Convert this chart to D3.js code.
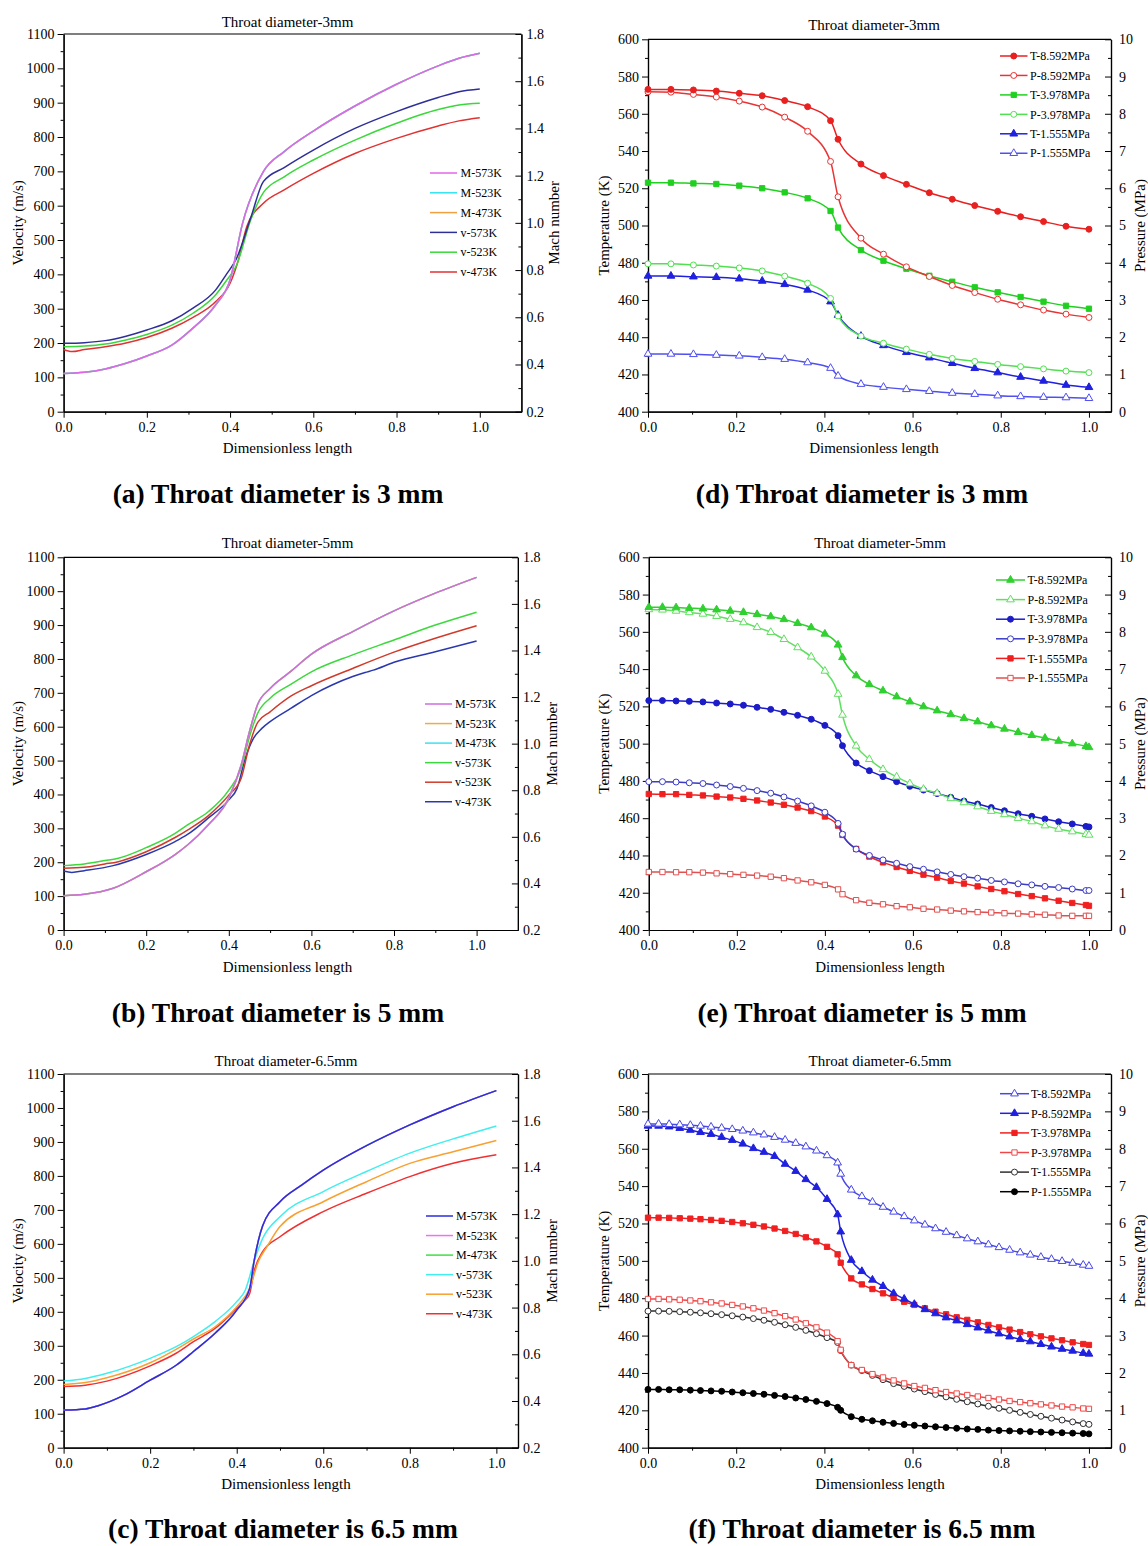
<!DOCTYPE html>
<html><head><meta charset="utf-8">
<script src="https://cdn.jsdelivr.net/npm/d3@7"></script>
<style>body{margin:0;background:#fff}</style>
</head><body>
<script>
// ================= DATA =================
const xTickVals = [0, 0.2, 0.4, 0.6, 0.8, 1.0];
const xMinorVals = [0.1, 0.3, 0.5, 0.7, 0.9];

// ---- Panel (a): throat 3 mm, velocity / Mach ----
const xA_M = [0, 0.05, 0.1, 0.15, 0.2, 0.26, 0.31, 0.365, 0.40, 0.43, 0.48, 0.53, 0.6, 0.7, 0.8, 0.9, 0.95, 1.0];
const machA = [0.362, 0.367, 0.381, 0.405, 0.436, 0.482, 0.553, 0.652, 0.758, 0.998, 1.217, 1.302, 1.389, 1.495, 1.587, 1.665, 1.697, 1.718];
const xA_v573 = [0, 0.05, 0.1, 0.15, 0.2, 0.26, 0.31, 0.365, 0.39, 0.415, 0.45, 0.48, 0.53, 0.6, 0.7, 0.8, 0.9, 0.95, 1.0];
const vA_573 = [199, 201, 207, 220, 238, 265, 301, 354, 398, 445, 566, 670, 711, 762, 825, 874, 915, 932, 940];
const xA_v523 = [0, 0.05, 0.1, 0.15, 0.2, 0.26, 0.31, 0.365, 0.39, 0.415, 0.45, 0.48, 0.53, 0.6, 0.7, 0.8, 0.9, 0.95, 1.0];
const vA_523 = [189, 191, 197, 209, 225, 252, 286, 340, 380, 425, 560, 638, 684, 733, 791, 840, 880, 893, 898];
const xA_v473 = [0, 0.02, 0.05, 0.1, 0.15, 0.2, 0.26, 0.31, 0.365, 0.4, 0.42, 0.44, 0.48, 0.53, 0.6, 0.7, 0.8, 0.9, 0.95, 1.0];
const vA_473 = [181, 175, 181, 189, 200, 216, 243, 274, 320, 374, 442, 539, 607, 646, 694, 752, 796, 832, 847, 856];

// ---- Panel (b): throat 5 mm ----
const xB_M = [0, 0.05, 0.12, 0.2, 0.27, 0.3, 0.35, 0.4, 0.43, 0.45, 0.47, 0.5, 0.55, 0.6, 0.7, 0.8, 0.9, 1.0];
const machB = [0.347, 0.353, 0.379, 0.450, 0.524, 0.565, 0.651, 0.766, 0.908, 1.051, 1.169, 1.237, 1.310, 1.384, 1.481, 1.570, 1.646, 1.714];
const xB_v573 = [0, 0.05, 0.1, 0.13, 0.2, 0.27, 0.3, 0.35, 0.4, 0.43, 0.45, 0.47, 0.5, 0.55, 0.6, 0.7, 0.8, 0.9, 1.0];
const vB_573 = [190, 195, 205, 211, 243, 285, 310, 349, 413, 477, 570, 640, 684, 725, 762, 812, 856, 900, 938];
const xB_v523 = [0, 0.05, 0.1, 0.13, 0.2, 0.27, 0.3, 0.35, 0.4, 0.43, 0.45, 0.47, 0.5, 0.55, 0.6, 0.7, 0.8, 0.9, 1.0];
const vB_523 = [182, 185, 195, 201, 231, 273, 295, 337, 398, 448, 546, 613, 644, 690, 721, 772, 820, 861, 898];
const xB_v473 = [0, 0.02, 0.05, 0.12, 0.2, 0.27, 0.3, 0.35, 0.4, 0.42, 0.44, 0.46, 0.48, 0.5, 0.55, 0.6, 0.65, 0.7, 0.73, 0.75, 0.8, 0.9, 1.0];
const vB_473 = [174, 170, 175, 190, 223, 261, 282, 330, 384, 418, 507, 566, 595, 615, 654, 692, 723, 748, 760, 767, 790, 821, 853];

// ---- Panel (c): throat 6.5 mm ----
const xC_M = [0, 0.05, 0.08, 0.14, 0.2, 0.26, 0.3, 0.35, 0.4, 0.43, 0.44, 0.46, 0.5, 0.55, 0.6, 0.7, 0.8, 0.9, 1.0];
const machC = [0.361, 0.366, 0.380, 0.425, 0.489, 0.553, 0.612, 0.690, 0.789, 0.882, 0.997, 1.150, 1.253, 1.324, 1.388, 1.493, 1.582, 1.660, 1.729];
const xC_v573 = [0, 0.05, 0.1, 0.2, 0.27, 0.3, 0.35, 0.4, 0.42, 0.44, 0.46, 0.5, 0.6, 0.7, 0.8, 0.9, 1.0];
const vC_573 = [196, 204, 219, 263, 304, 327, 371, 430, 464, 548, 616, 680, 754, 813, 867, 909, 947];
const xC_v523 = [0, 0.05, 0.1, 0.2, 0.27, 0.3, 0.35, 0.4, 0.43, 0.45, 0.47, 0.5, 0.6, 0.7, 0.8, 0.9, 1.0];
const vC_523 = [186, 192, 206, 250, 297, 320, 356, 415, 469, 548, 592, 651, 724, 783, 837, 871, 904];
const xC_v473 = [0, 0.05, 0.1, 0.2, 0.26, 0.3, 0.35, 0.4, 0.42, 0.43, 0.44, 0.46, 0.5, 0.6, 0.7, 0.8, 0.9, 1.0];
const vC_473 = [180, 184, 196, 241, 278, 312, 351, 410, 435, 454, 518, 577, 621, 695, 749, 798, 837, 862];

// ---- Panel (d): throat 3 mm, temperature / pressure ----
const xD = [0, 0.052, 0.103, 0.155, 0.207, 0.259, 0.31, 0.362, 0.414, 0.431, 0.483, 0.534, 0.586, 0.638, 0.69, 0.741, 0.793, 0.845, 0.897, 0.948, 1.0];
const tD_86 = [573.1, 573.1, 572.8, 572.2, 571.0, 569.7, 567.1, 563.8, 556.3, 546.3, 533.0, 526.8, 522.1, 517.6, 514.1, 510.7, 507.6, 504.7, 502.1, 499.6, 498.0];
const pD_86 = [8.59, 8.58, 8.52, 8.45, 8.34, 8.18, 7.91, 7.53, 6.72, 5.77, 4.66, 4.23, 3.89, 3.63, 3.39, 3.20, 3.02, 2.87, 2.73, 2.62, 2.53];
const tD_40 = [523.0, 523.0, 522.6, 522.3, 521.4, 520.0, 517.8, 514.6, 507.8, 498.9, 486.8, 481.1, 476.8, 473.0, 469.8, 466.8, 464.1, 461.6, 459.1, 456.9, 455.3];
const pD_40 = [3.97, 3.97, 3.94, 3.91, 3.86, 3.78, 3.64, 3.45, 3.04, 2.57, 2.03, 1.84, 1.68, 1.54, 1.43, 1.35, 1.27, 1.21, 1.15, 1.09, 1.05];
const tD_16 = [472.9, 472.9, 472.5, 472.2, 471.4, 470.2, 468.4, 465.4, 459.1, 451.9, 440.6, 435.6, 431.9, 429.0, 426.0, 423.3, 421.0, 418.6, 416.5, 414.3, 413.1];
const pD_16 = [1.55, 1.55, 1.54, 1.52, 1.50, 1.46, 1.41, 1.32, 1.17, 0.96, 0.74, 0.66, 0.60, 0.55, 0.50, 0.47, 0.43, 0.41, 0.39, 0.38, 0.36];

// ---- Panel (e): throat 5 mm ----
const xE = [0, 0.031, 0.062, 0.092, 0.123, 0.154, 0.185, 0.215, 0.246, 0.277, 0.307, 0.338, 0.369, 0.4, 0.43, 0.44, 0.471, 0.501, 0.532, 0.563, 0.593, 0.624, 0.655, 0.686, 0.716, 0.747, 0.778, 0.808, 0.839, 0.87, 0.9, 0.931, 0.962, 0.993, 1.0];
const tE_86 = [573.2, 573.2, 573.0, 572.7, 572.4, 571.9, 571.2, 570.5, 569.4, 568.2, 566.7, 564.6, 562.3, 558.9, 553.0, 546.3, 536.5, 531.8, 528.4, 525.2, 522.5, 519.9, 517.7, 515.7, 513.6, 511.8, 509.7, 507.9, 506.1, 504.5, 503.0, 501.4, 500.0, 498.6, 498.0];
const pE_86 = [8.60, 8.59, 8.56, 8.52, 8.48, 8.42, 8.34, 8.25, 8.12, 7.99, 7.80, 7.58, 7.33, 6.95, 6.33, 5.77, 4.94, 4.58, 4.31, 4.11, 3.93, 3.78, 3.67, 3.53, 3.42, 3.31, 3.19, 3.10, 3.00, 2.91, 2.80, 2.71, 2.64, 2.57, 2.55];
const tE_40 = [523.1, 523.1, 522.9, 522.7, 522.4, 521.8, 521.3, 520.6, 519.5, 518.4, 516.8, 515.2, 513.1, 509.8, 504.3, 498.9, 489.6, 485.5, 482.3, 479.6, 477.1, 475.1, 473.2, 471.2, 469.2, 467.6, 465.7, 464.0, 462.4, 461.0, 459.6, 458.1, 456.9, 455.6, 455.3];
const pE_40 = [3.98, 3.98, 3.97, 3.95, 3.93, 3.89, 3.85, 3.80, 3.74, 3.67, 3.57, 3.46, 3.33, 3.16, 2.86, 2.57, 2.17, 2.00, 1.88, 1.79, 1.70, 1.63, 1.56, 1.49, 1.43, 1.39, 1.33, 1.29, 1.24, 1.21, 1.17, 1.14, 1.10, 1.06, 1.06];
const tE_16 = [473.0, 472.9, 472.9, 472.5, 472.2, 471.6, 471.1, 470.4, 469.5, 468.4, 467.2, 465.7, 463.8, 460.9, 456.0, 451.0, 443.5, 439.4, 436.3, 433.8, 431.7, 429.7, 428.1, 426.3, 424.9, 423.4, 422.0, 420.8, 419.3, 418.2, 417.0, 415.7, 414.5, 413.4, 413.0];
const pE_16 = [1.556, 1.556, 1.55, 1.55, 1.54, 1.52, 1.50, 1.48, 1.46, 1.43, 1.39, 1.33, 1.28, 1.21, 1.09, 0.96, 0.80, 0.73, 0.69, 0.64, 0.61, 0.57, 0.55, 0.52, 0.50, 0.48, 0.47, 0.45, 0.44, 0.42, 0.41, 0.39, 0.38, 0.38, 0.38];

// ---- Panel (f): throat 6.5 mm ----
const xF = [0, 0.024, 0.048, 0.072, 0.096, 0.119, 0.143, 0.167, 0.191, 0.215, 0.239, 0.263, 0.287, 0.311, 0.335, 0.358, 0.382, 0.406, 0.43, 0.437, 0.461, 0.485, 0.509, 0.533, 0.557, 0.581, 0.604, 0.628, 0.652, 0.676, 0.7, 0.724, 0.748, 0.772, 0.796, 0.82, 0.844, 0.867, 0.891, 0.915, 0.939, 0.963, 0.987, 1.0];
const tF_86 = [573.3, 573.3, 573.1, 572.9, 572.6, 572.2, 571.7, 571.1, 570.4, 569.6, 568.6, 567.5, 566.2, 564.7, 563.0, 561.1, 558.9, 556.4, 552.5, 546.5, 538.0, 534.5, 531.5, 528.8, 526.2, 523.8, 521.5, 519.3, 517.3, 515.4, 513.6, 511.9, 510.3, 508.7, 507.2, 505.8, 504.4, 503.2, 502.0, 500.9, 499.8, 498.8, 497.8, 497.2];
const pF_86 = [8.61, 8.61, 8.59, 8.55, 8.50, 8.44, 8.39, 8.31, 8.23, 8.13, 8.01, 7.91, 7.80, 7.59, 7.40, 7.18, 6.97, 6.65, 6.24, 5.78, 5.02, 4.72, 4.49, 4.32, 4.13, 3.98, 3.84, 3.70, 3.59, 3.48, 3.40, 3.30, 3.21, 3.13, 3.05, 2.97, 2.90, 2.84, 2.77, 2.70, 2.64, 2.59, 2.53, 2.51];
const tF_40 = [523.1, 523.1, 523.0, 522.8, 522.6, 522.3, 521.9, 521.4, 520.8, 520.1, 519.3, 518.4, 517.3, 516.0, 514.4, 512.6, 510.4, 507.5, 503.5, 499.0, 490.6, 487.4, 484.9, 482.6, 480.2, 478.1, 476.4, 474.6, 472.8, 471.4, 469.8, 468.4, 467.1, 465.7, 464.4, 463.2, 461.9, 460.7, 459.6, 458.5, 457.5, 456.4, 455.5, 455.0];
const pF_40 = [3.98, 3.98, 3.97, 3.96, 3.94, 3.92, 3.89, 3.86, 3.82, 3.78, 3.73, 3.67, 3.60, 3.52, 3.43, 3.33, 3.22, 3.08, 2.85, 2.62, 2.21, 2.08, 1.97, 1.88, 1.80, 1.72, 1.65, 1.60, 1.54, 1.49, 1.45, 1.41, 1.37, 1.33, 1.29, 1.25, 1.22, 1.19, 1.16, 1.13, 1.10, 1.08, 1.05, 1.04];
const tF_16 = [473.1, 473.1, 473.0, 472.8, 472.5, 472.2, 471.7, 471.2, 470.6, 469.9, 469.1, 468.2, 467.1, 465.8, 464.4, 462.8, 461.0, 458.9, 456.3, 452.0, 444.2, 441.3, 438.7, 436.4, 434.3, 432.8, 431.4, 430.0, 428.5, 427.2, 425.9, 424.6, 423.4, 422.2, 421.1, 420.0, 418.9, 417.8, 416.8, 415.8, 414.8, 413.8, 412.9, 412.5];
const pF_16 = [1.56, 1.56, 1.55, 1.55, 1.54, 1.53, 1.52, 1.51, 1.49, 1.47, 1.45, 1.43, 1.40, 1.37, 1.33, 1.29, 1.24, 1.18, 1.08, 1.00, 0.83, 0.76, 0.72, 0.68, 0.65, 0.62, 0.60, 0.58, 0.56, 0.54, 0.52, 0.50, 0.49, 0.47, 0.46, 0.45, 0.44, 0.43, 0.42, 0.41, 0.40, 0.39, 0.38, 0.37];

// tick value lists
const velTicks = d3.range(0, 1101, 100);
const velMinor = d3.range(50, 1100, 100);
const machTicks = [0.2, 0.4, 0.6, 0.8, 1.0, 1.2, 1.4, 1.6, 1.8];
const machMinor = [0.3, 0.5, 0.7, 0.9, 1.1, 1.3, 1.5, 1.7];
const tempTicks = d3.range(400, 601, 20);
const tempMinor = d3.range(410, 600, 20);
const presTicks = d3.range(0, 11, 1);
const presMinor = d3.range(0.5, 10, 1);

// ================= DRAWING =================
const FONT = '"Liberation Serif","Times New Roman",Times,serif';
const svg = d3.select('body').append('svg').attr('width', 1148).attr('height', 1546)
  .attr('font-family', FONT);
svg.append('rect').attr('width', 1148).attr('height', 1546).attr('fill', '#fff');

const symType = { circle: d3.symbolCircle, square: d3.symbolSquare, triangle: d3.symbolTriangle };
const symSize = { circle: 28, square: 28, triangle: 26 };

function styleAxis(sel, fs) {
  sel.attr('font-family', FONT).attr('font-size', fs);
  sel.selectAll('.domain').attr('stroke', '#000').attr('stroke-width', 1.2);
  sel.selectAll('.tick line').attr('stroke', '#000').attr('stroke-width', 1);
  sel.selectAll('.tick text').attr('fill', '#000');
}

function drawPanel(p) {
  const g = svg.append('g');
  const x = d3.scaleLinear().domain([0, p.xmax]).range([p.left, p.right]);
  const yL = d3.scaleLinear().domain(p.yL.domain).range([p.bottom, p.top]);
  const yR = d3.scaleLinear().domain(p.yR.domain).range([p.bottom, p.top]);
  const TFS = 14;

  g.append('line').attr('x1', p.left).attr('x2', p.right).attr('y1', p.top).attr('y2', p.top)
    .attr('stroke', '#000').attr('stroke-width', 1.2);

  g.append('g').attr('transform', `translate(0,${p.bottom})`)
    .call(d3.axisBottom(x).tickValues(xTickVals).tickFormat(d3.format('.1f')).tickSizeInner(6).tickSizeOuter(0).tickPadding(4))
    .call(s => styleAxis(s, TFS));
  g.append('g').attr('transform', `translate(0,${p.bottom})`)
    .call(d3.axisBottom(x).tickValues(xMinorVals).tickFormat('').tickSizeInner(3).tickSizeOuter(0))
    .call(s => styleAxis(s, TFS));
  g.append('g').attr('transform', `translate(${p.left},0)`)
    .call(d3.axisLeft(yL).tickValues(p.yL.ticks).tickFormat(p.yL.fmt).tickSizeInner(6).tickSizeOuter(0).tickPadding(3))
    .call(s => styleAxis(s, TFS));
  g.append('g').attr('transform', `translate(${p.left},0)`)
    .call(d3.axisLeft(yL).tickValues(p.yL.minor).tickFormat('').tickSizeInner(3).tickSizeOuter(0))
    .call(s => styleAxis(s, TFS));
  g.append('g').attr('transform', `translate(${p.right},0)`)
    .call(d3.axisRight(yR).tickValues(p.yR.ticks).tickFormat(p.yR.fmt).tickSizeInner(-6).tickSizeOuter(0).tickPadding(p.yR.pad))
    .call(s => styleAxis(s, TFS));
  g.append('g').attr('transform', `translate(${p.right},0)`)
    .call(d3.axisRight(yR).tickValues(p.yR.minor).tickFormat('').tickSizeInner(-3).tickSizeOuter(0))
    .call(s => styleAxis(s, TFS));

  g.append('text').attr('x', p.cx).attr('y', p.top - p.titleOff).attr('text-anchor', 'middle')
    .attr('font-size', 15).text(p.title);
  g.append('text').attr('x', p.cx).attr('y', p.bottom + 41.5).attr('text-anchor', 'middle')
    .attr('font-size', 15).text('Dimensionless length');
  const cy = (p.top + p.bottom) / 2;
  g.append('text').attr('transform', `translate(${p.yLx},${cy}) rotate(-90)`).attr('text-anchor', 'middle')
    .attr('font-size', 15).text(p.yL.label);
  g.append('text').attr('transform', `translate(${p.yRx},${cy}) rotate(-90)`).attr('text-anchor', 'middle')
    .attr('font-size', 15).text(p.yR.label);

  g.append('text').attr('x', p.capX).attr('y', p.capY).attr('text-anchor', 'middle')
    .attr('font-size', 27.5).attr('font-weight', 'bold').text(p.caption);

  const series = p.series;
  series.slice().reverse().forEach(s => {
    const ys = s.axis === 'R' ? yR : yL;
    const pts = s.x.map((xv, i) => [xv, s.y[i]]);
    g.append('path').datum(pts)
      .attr('fill', 'none').attr('stroke', s.color).attr('stroke-width', 1.5)
      .attr('d', d3.line().x(d => x(d[0])).y(d => ys(d[1])).curve(d3.curveMonotoneX));
    if (s.marker) {
      const sym = d3.symbol().type(symType[s.marker]).size(symSize[s.marker]);
      g.append('g').selectAll('path').data(pts).join('path')
        .attr('transform', d => `translate(${x(d[0])},${ys(d[1])})`)
        .attr('d', sym)
        .attr('fill', s.open ? '#fff' : s.color)
        .attr('stroke', s.color).attr('stroke-width', 1);
    }
  });

  series.forEach((s, i) => {
    const ly = p.leg.y0 + i * p.leg.dy;
    g.append('line').attr('x1', p.leg.x0).attr('x2', p.leg.x1).attr('y1', ly).attr('y2', ly)
      .attr('stroke', s.color).attr('stroke-width', 1.5);
    if (s.marker) {
      const sym = d3.symbol().type(symType[s.marker]).size(symSize[s.marker]);
      g.append('path').attr('transform', `translate(${(p.leg.x0 + p.leg.x1) / 2},${ly})`)
        .attr('d', sym).attr('fill', s.open ? '#fff' : s.color)
        .attr('stroke', s.color).attr('stroke-width', 1);
    }
    g.append('text').attr('x', p.leg.tx).attr('y', ly + 4.2).attr('font-size', 12).text(s.label);
  });
}

const velAxis = { domain: [0, 1100], ticks: velTicks, minor: velMinor, fmt: d3.format('d'), label: 'Velocity (m/s)' };
const machAxis = { domain: [0.2, 1.8], ticks: machTicks, minor: machMinor, fmt: d3.format('.1f'), label: 'Mach number', pad: 5 };
const tempAxis = { domain: [400, 600], ticks: tempTicks, minor: tempMinor, fmt: d3.format('d'), label: 'Temperature (K)' };
const presAxis = { domain: [0, 10], ticks: presTicks, minor: presMinor, fmt: d3.format('d'), label: 'Pressure (MPa)', pad: 8 };

// ---- left column ----
drawPanel({
  left: 63.6, right: 521.4, top: 34, bottom: 411.7, xmax: 1.1, cx: 287.5, titleOff: 7,
  yL: velAxis, yR: machAxis, yLx: 23, yRx: 559,
  title: 'Throat diameter-3mm', caption: '(a) Throat diameter is 3 mm', capX: 278, capY: 503,
  leg: { x0: 430, x1: 457, tx: 460.5, y0: 173, dy: 19.8 },
  series: [
    { label: 'M-573K', x: xA_M, y: machA, axis: 'R', color: '#e266e8' },
    { label: 'M-523K', x: xA_M, y: machA, axis: 'R', color: '#30e4f0' },
    { label: 'M-473K', x: xA_M, y: machA, axis: 'R', color: '#f0a040' },
    { label: 'v-573K', x: xA_v573, y: vA_573, axis: 'L', color: '#2e2e98' },
    { label: 'v-523K', x: xA_v523, y: vA_523, axis: 'L', color: '#3ad83a' },
    { label: 'v-473K', x: xA_v473, y: vA_473, axis: 'L', color: '#e03232' }
  ]
});
drawPanel({
  left: 63.6, right: 517.9, top: 557.3, bottom: 930, xmax: 1.1, cx: 287.5, titleOff: 9,
  yL: velAxis, yR: machAxis, yLx: 23, yRx: 557,
  title: 'Throat diameter-5mm', caption: '(b) Throat diameter is 5 mm', capX: 278, capY: 1022,
  leg: { x0: 425, x1: 452, tx: 455, y0: 704, dy: 19.55 },
  series: [
    { label: 'M-573K', x: xB_M, y: machB, axis: 'R', color: '#cc6ee0' },
    { label: 'M-523K', x: xB_M, y: machB, axis: 'R', color: '#e8b040' },
    { label: 'M-473K', x: xB_M, y: machB, axis: 'R', color: '#40e0f0' },
    { label: 'v-573K', x: xB_v573, y: vB_573, axis: 'L', color: '#3cd83c' },
    { label: 'v-523K', x: xB_v523, y: vB_523, axis: 'L', color: '#d03a2a' },
    { label: 'v-473K', x: xB_v473, y: vB_473, axis: 'L', color: '#2a38b0' }
  ]
});
drawPanel({
  left: 63.6, right: 518, top: 1074, bottom: 1447.7, xmax: 1.05, cx: 286, titleOff: 8,
  yL: velAxis, yR: machAxis, yLx: 23, yRx: 557,
  title: 'Throat diameter-6.5mm', caption: '(c) Throat diameter is 6.5 mm', capX: 283, capY: 1538,
  leg: { x0: 426, x1: 453, tx: 456, y0: 1216, dy: 19.55 },
  series: [
    { label: 'M-573K', x: xC_M, y: machC, axis: 'R', color: '#2c2ce0' },
    { label: 'M-523K', x: xC_M, y: machC, axis: 'R', color: '#f070f0' },
    { label: 'M-473K', x: xC_M, y: machC, axis: 'R', color: '#40e040' },
    { label: 'v-573K', x: xC_v573, y: vC_573, axis: 'L', color: '#40eeee' },
    { label: 'v-523K', x: xC_v523, y: vC_523, axis: 'L', color: '#f8a030' },
    { label: 'v-473K', x: xC_v473, y: vC_473, axis: 'L', color: '#f03030' }
  ]
});

// ---- right column ----
drawPanel({
  left: 648, right: 1111, top: 39.3, bottom: 411.7, xmax: 1.05, cx: 874, titleOff: 9,
  yL: tempAxis, yR: presAxis, yLx: 608.5, yRx: 1145,
  title: 'Throat diameter-3mm', caption: '(d) Throat diameter is 3 mm', capX: 862, capY: 503,
  leg: { x0: 1000, x1: 1027.5, tx: 1030, y0: 56, dy: 19.45 },
  series: [
    { label: 'T-8.592MPa', x: xD, y: tD_86, axis: 'L', color: '#e82020', marker: 'circle', open: false },
    { label: 'P-8.592MPa', x: xD, y: pD_86, axis: 'R', color: '#e83434', marker: 'circle', open: true },
    { label: 'T-3.978MPa', x: xD, y: tD_40, axis: 'L', color: '#20d020', marker: 'square', open: false },
    { label: 'P-3.978MPa', x: xD, y: pD_40, axis: 'R', color: '#50e050', marker: 'circle', open: true },
    { label: 'T-1.555MPa', x: xD, y: tD_16, axis: 'L', color: '#2020e0', marker: 'triangle', open: false },
    { label: 'P-1.555MPa', x: xD, y: pD_16, axis: 'R', color: '#5050f0', marker: 'triangle', open: true }
  ]
});
drawPanel({
  left: 648.8, right: 1111, top: 557.3, bottom: 930, xmax: 1.05, cx: 880, titleOff: 9,
  yL: tempAxis, yR: presAxis, yLx: 608.5, yRx: 1145,
  title: 'Throat diameter-5mm', caption: '(e) Throat diameter is 5 mm', capX: 862, capY: 1022,
  leg: { x0: 996, x1: 1025, tx: 1027.5, y0: 580, dy: 19.6 },
  series: [
    { label: 'T-8.592MPa', x: xE, y: tE_86, axis: 'L', color: '#30d030', marker: 'triangle', open: false },
    { label: 'P-8.592MPa', x: xE, y: pE_86, axis: 'R', color: '#60e060', marker: 'triangle', open: true },
    { label: 'T-3.978MPa', x: xE, y: tE_40, axis: 'L', color: '#1c1cc8', marker: 'circle', open: false },
    { label: 'P-3.978MPa', x: xE, y: pE_40, axis: 'R', color: '#3a3ac4', marker: 'circle', open: true },
    { label: 'T-1.555MPa', x: xE, y: tE_16, axis: 'L', color: '#f02020', marker: 'square', open: false },
    { label: 'P-1.555MPa', x: xE, y: pE_16, axis: 'R', color: '#e05050', marker: 'square', open: true }
  ]
});
drawPanel({
  left: 648, right: 1111, top: 1074, bottom: 1447.7, xmax: 1.05, cx: 880, titleOff: 8,
  yL: tempAxis, yR: presAxis, yLx: 608.5, yRx: 1145,
  title: 'Throat diameter-6.5mm', caption: '(f) Throat diameter is 6.5 mm', capX: 862, capY: 1538,
  leg: { x0: 1000, x1: 1029, tx: 1031, y0: 1093.7, dy: 19.6 },
  series: [
    { label: 'T-8.592MPa', x: xF, y: tF_86, axis: 'L', color: '#4848e8', marker: 'triangle', open: true },
    { label: 'P-8.592MPa', x: xF, y: pF_86, axis: 'R', color: '#2020e0', marker: 'triangle', open: false },
    { label: 'T-3.978MPa', x: xF, y: tF_40, axis: 'L', color: '#f02020', marker: 'square', open: false },
    { label: 'P-3.978MPa', x: xF, y: pF_40, axis: 'R', color: '#f04848', marker: 'square', open: true },
    { label: 'T-1.555MPa', x: xF, y: tF_16, axis: 'L', color: '#303030', marker: 'circle', open: true },
    { label: 'P-1.555MPa', x: xF, y: pF_16, axis: 'R', color: '#000000', marker: 'circle', open: false }
  ]
});
</script>
</body></html>
